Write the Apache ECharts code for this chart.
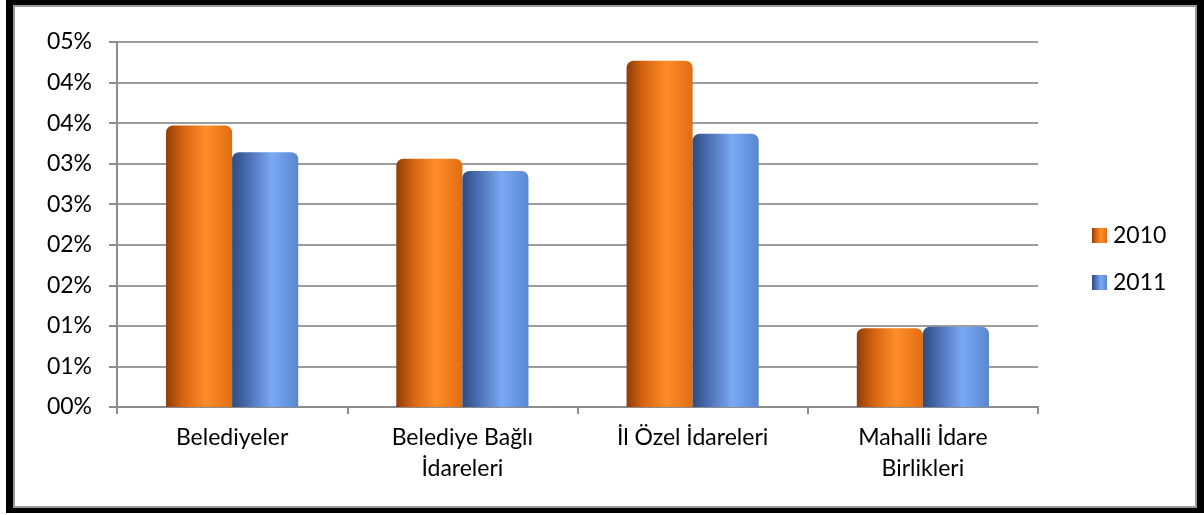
<!DOCTYPE html>
<html><head><meta charset="utf-8">
<script src="https://cdn.jsdelivr.net/npm/echarts@6/dist/echarts.min.js"></script>
<style>
html,body{margin:0;padding:0;background:#fff;width:1204px;height:515px;overflow:hidden;}
#frame{position:absolute;left:6px;top:0;width:1184px;height:503px;border-style:solid;border-color:#000;border-width:5px 7px 5px 7px;}
#inner{position:absolute;left:0;top:0;width:1180px;height:499px;border:2px solid #9a9a9a;}
#main{position:absolute;left:0;top:0;width:1204px;height:515px;}
</style></head><body>
<div id="frame"><div id="inner"></div></div>
<div id="main"></div>
<script>
const categories = ["Belediyeler", "Belediye Bağlı\nİdareleri", "İl Özel İdareleri", "Mahalli İdare\nBirlikleri"];
const seriesNames = ["2010", "2011"];
const values2010 = [0.0347, 0.0306, 0.0427, 0.0097];
const values2011 = [0.0314, 0.0291, 0.0337, 0.0099];
const yTickLabels = ["00%","01%","01%","02%","02%","03%","03%","04%","04%","05%"];

const orangeGrad = new echarts.graphic.LinearGradient(0,0,1,0,[
  {offset:0,color:'#8f3d08'},{offset:0.25,color:'#d4640f'},{offset:0.6,color:'#ff8d2a'},{offset:1,color:'#e06d12'}]);
const blueGrad = new echarts.graphic.LinearGradient(0,0,1,0,[
  {offset:0,color:'#2f4c80'},{offset:0.25,color:'#4d70b5'},{offset:0.6,color:'#7aa9f3'},{offset:1,color:'#5a86d0'}]);

const chart = echarts.init(document.getElementById('main'), null, {renderer:'canvas'});
const font = 'Lato, "Open Sans", sans-serif';
const fs = 23;
chart.setOption({
  animation:false,
  textStyle:{fontFamily:font},
  grid:{left:117, right:166, top:42, bottom:108, containLabel:false},
  legend:{
    orient:'vertical', left:1087, top:219, itemWidth:15, itemHeight:15, itemGap:24,
    icon:'rect',
    textStyle:{fontSize:fs, color:'#000', fontFamily:font, padding:[0,0,0,1]},
    data:seriesNames
  },
  xAxis:{
    type:'category', data:categories,
    axisLine:{lineStyle:{color:'#8c8c8c', width:2}},
    axisTick:{show:true, length:7, alignWithLabel:false, lineStyle:{color:'#8c8c8c', width:2}},
    axisLabel:{fontSize:fs, color:'#000', margin:15, lineHeight:31, interval:0, fontFamily:font}
  },
  yAxis:{
    type:'value', min:0, max:0.045, interval:0.005,
    axisLine:{show:true, lineStyle:{color:'#8c8c8c', width:2}},
    axisTick:{show:true, length:8, lineStyle:{color:'#8c8c8c', width:2}},
    splitLine:{lineStyle:{color:'#9c9c9c', width:2}},
    axisLabel:{fontSize:fs, color:'#000', margin:25, fontFamily:font,
      formatter:function(v){return yTickLabels[Math.round(v/0.005)];}}
  },
  series:[
    {name:seriesNames[0], type:'bar', data:values2010, barGap:'0%', barCategoryGap:'42.6%',
     itemStyle:{color:orangeGrad, borderRadius:[7,7,0,0]}},
    {name:seriesNames[1], type:'bar', data:values2011,
     itemStyle:{color:blueGrad, borderRadius:[7,7,0,0]}}
  ]
});
</script>
</body></html>
